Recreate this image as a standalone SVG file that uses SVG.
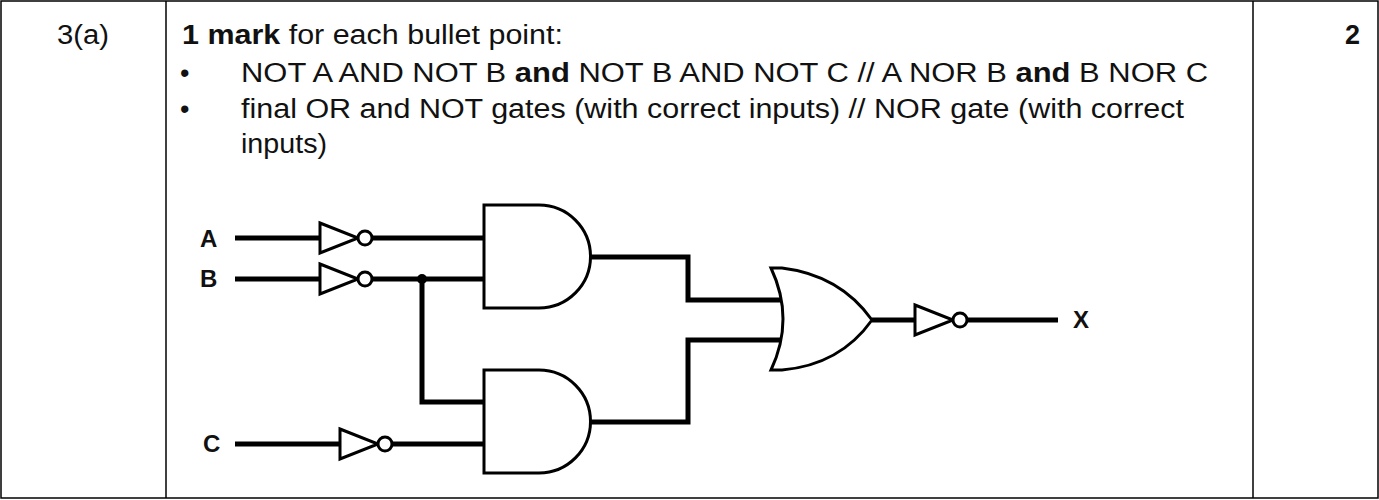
<svg xmlns="http://www.w3.org/2000/svg" width="1379" height="500" viewBox="0 0 1379 500">
<style>
.t{font-family:"Liberation Sans",Arial,sans-serif;font-size:27px;fill:#111}
.lbl{font-family:"Liberation Sans",Arial,sans-serif;font-size:24px;font-weight:bold;fill:#111}
.w{fill:none;stroke:#000;stroke-width:5}
.g{fill:#fff;stroke:#000;stroke-width:3}
.b{stroke:#000;stroke-width:1.5;fill:none}
</style>
<defs>
<g id="inv"><polygon points="0,-15 38,0 0,15" class="g"/><circle cx="45" cy="0" r="7" class="g"/></g>
<path id="and" d="M0,0 H55 A51.5,51.5 0 0 1 55,103 H0 Z" class="g"/>
</defs>
<rect width="1379" height="500" fill="#fff"/>
<g id="table">
<rect x="1" y="1" width="1377" height="497" class="b"/>
<line x1="166" y1="1" x2="166" y2="498" class="b"/>
<line x1="1253" y1="1" x2="1253" y2="498" class="b"/>
<text x="57" y="44" class="t" textLength="52" lengthAdjust="spacingAndGlyphs">3(a)</text>
<text x="1345" y="44" class="t" font-weight="bold">2</text>
<text x="182" y="44" class="t" textLength="381" lengthAdjust="spacingAndGlyphs"><tspan font-weight="bold">1 mark</tspan> for each bullet point:</text>
<text x="180" y="82" class="t">•</text>
<text x="241" y="82" class="t" textLength="967" lengthAdjust="spacingAndGlyphs">NOT A AND NOT B <tspan font-weight="bold">and</tspan> NOT B AND NOT C // A NOR B <tspan font-weight="bold">and</tspan> B NOR C</text>
<text x="180" y="118" class="t">•</text>
<text x="241" y="118" class="t" textLength="943" lengthAdjust="spacingAndGlyphs">final OR and NOT gates (with correct inputs) // NOR gate (with correct</text>
<text x="241" y="153" class="t" textLength="86" lengthAdjust="spacingAndGlyphs">inputs)</text>
</g>
<g id="connectors">
<path class="w" d="M235,238 H320 M372,238 H483"/>
<path class="w" d="M235,279 H320 M372,279 H483"/>
<path class="w" d="M422,279 V402 H483"/>
<path class="w" d="M235,444 H340 M392,444 H483"/>
<path class="w" d="M588,257 H688 V300 H785"/>
<path class="w" d="M588,422 H688 V340 H785"/>
<path class="w" d="M872,320 H915 M967,320 H1058"/>
<circle cx="422" cy="279" r="5" fill="#000"/>
</g>
<g id="labelA"><text x="200" y="247" class="lbl">A</text></g>
<g id="labelB"><text x="200" y="287" class="lbl">B</text></g>
<g id="labelC"><text x="203" y="452" class="lbl">C</text></g>
<g id="labelX"><text x="1073" y="328" class="lbl">X</text></g>
<g id="notA"><use href="#inv" x="320" y="238"/></g>
<g id="notB"><use href="#inv" x="320" y="279"/></g>
<g id="notC"><use href="#inv" x="340" y="444"/></g>
<g id="and1"><use href="#and" x="484" y="205"/></g>
<g id="and2"><use href="#and" x="484" y="370"/></g>
<g id="or"><path class="g" d="M771,268 H782 Q840,275 872,320 Q840,365 782,370 H771 Q795,319 771,268 Z"/></g>
<g id="notX"><use href="#inv" x="915" y="320"/></g>
</svg>
